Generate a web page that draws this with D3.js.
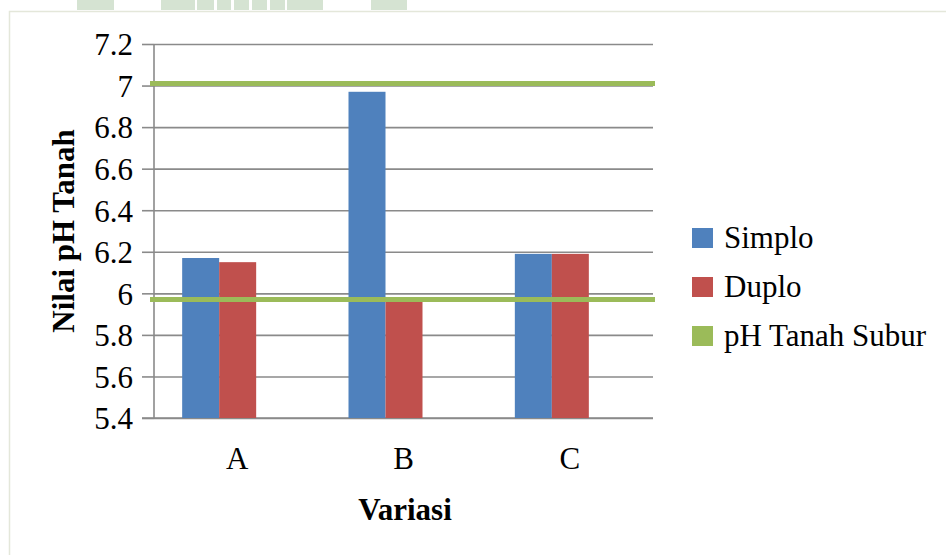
<!DOCTYPE html>
<html>
<head>
<meta charset="utf-8">
<script src="https://cdn.jsdelivr.net/npm/d3@7"></script>
<style>
  body { margin: 0; background: #fff; }
  svg text { font-family: "Liberation Serif", "Times New Roman", serif !important; fill: #000; }
</style>
</head>
<body>
<div id="chart"></div>
<script>
// data
const categories = ['A', 'B', 'C'];
const seriesNames = ['Simplo', 'Duplo'];
const simplo = [6.17, 6.97, 6.19];
const duplo = [6.15, 5.96, 6.19];
const referenceName = 'pH Tanah Subur';
const referenceLines = [7.01, 5.97];
const yTicks = [5.4, 5.6, 5.8, 6.0, 6.2, 6.4, 6.6, 6.8, 7.0, 7.2];

const colors = { Simplo: '#4f81bd', Duplo: '#c0504d', ref: '#9bbb59' };

const width = 946, height = 555;
const plot = { left: 154, right: 653, top: 44, bottom: 418 };

const svg = d3.select('#chart').append('svg')
    .attr('width', width)
    .attr('height', height);

// page decoration: faint header blocks and frame
const headerBlocks = [[77, 37], [161, 34], [197, 17], [217, 14], [234, 15], [252, 15], [270, 15], [287, 36], [371, 36]];
svg.selectAll('.hdr').data(headerBlocks).enter().append('rect')
    .attr('x', d => d[0]).attr('y', 0)
    .attr('width', d => d[1]).attr('height', 10)
    .attr('fill', '#d5e3d2');
svg.append('rect')
    .attr('x', 9.5).attr('y', 11.5)
    .attr('width', width).attr('height', height)
    .attr('fill', 'none')
    .attr('stroke', '#e4e7da')
    .attr('stroke-width', 1.5);

// scales
const y = d3.scaleLinear().domain([5.4, 7.2]).range([plot.bottom, plot.top]);
const x = d3.scaleBand().domain(categories).range([plot.left, plot.right]);
// bars in the original sit a little left of the category centres
const xBars = d3.scaleBand().domain(categories).range([plot.left - 18, plot.right - 18]);
const xSub = d3.scaleBand().domain(seriesNames).range([0, 74]);

const fmt = d => String(+d.toFixed(1));

// gridlines
svg.append('g')
    .attr('transform', `translate(${plot.left},0)`)
    .call(d3.axisLeft(y).tickValues(yTicks).tickSize(-(plot.right - plot.left)).tickFormat(''))
    .call(g => g.select('.domain').remove())
    .call(g => g.selectAll('line').attr('stroke', '#8a8a8a').attr('stroke-width', 1.6));

// y axis with outer ticks and labels
svg.append('g')
    .attr('transform', `translate(${plot.left},0)`)
    .call(d3.axisLeft(y).tickValues(yTicks).tickSize(12).tickPadding(9).tickFormat(fmt))
    .call(g => g.select('.domain').attr('stroke', '#8a8a8a').attr('stroke-width', 1.6).attr('d', `M0,${plot.top}V${plot.bottom}`))
    .call(g => g.selectAll('line').attr('stroke', '#8a8a8a').attr('stroke-width', 1.6))
    .call(g => g.selectAll('text')
        .attr('font-size', 31)
        .attr('dy', '0.35em'));

// x axis line
svg.append('line')
    .attr('x1', plot.left - 12).attr('x2', plot.right)
    .attr('y1', plot.bottom).attr('y2', plot.bottom)
    .attr('stroke', '#8a8a8a').attr('stroke-width', 1.6);

// bars
const rows = categories.map((c, i) => ({ cat: c, Simplo: simplo[i], Duplo: duplo[i] }));
const groups = svg.selectAll('.grp').data(rows).enter().append('g')
    .attr('transform', d => `translate(${xBars(d.cat) + xBars.bandwidth() / 2 - 37},0)`);

groups.selectAll('rect')
    .data(d => seriesNames.map(s => ({ s, v: d[s] })))
    .enter().append('rect')
    .attr('x', d => xSub(d.s))
    .attr('y', d => y(d.v))
    .attr('width', xSub.bandwidth())
    .attr('height', d => y(5.4) - y(d.v))
    .attr('fill', d => colors[d.s]);

// reference lines
svg.selectAll('.ref').data(referenceLines).enter().append('line')
    .attr('x1', plot.left - 4).attr('x2', plot.right + 2)
    .attr('y1', d => y(d)).attr('y2', d => y(d))
    .attr('stroke', colors.ref)
    .attr('stroke-width', 5);

// category labels
svg.selectAll('.cat').data(categories).enter().append('text')
    .attr('x', d => x(d) + x.bandwidth() / 2)
    .attr('y', 469)
    .attr('text-anchor', 'middle')
    .attr('font-size', 31)
    .text(d => d);

// axis titles
svg.append('text')
    .attr('x', 405).attr('y', 520)
    .attr('text-anchor', 'middle')
    .attr('font-size', 31)
    .attr('font-weight', 'bold')
    .text('Variasi');

svg.append('text')
    .attr('transform', 'translate(74,231) rotate(-90)')
    .attr('text-anchor', 'middle')
    .attr('font-size', 31)
    .attr('font-weight', 'bold')
    .text('Nilai pH Tanah');

// legend
const legendItems = [
    { name: seriesNames[0], color: colors.Simplo },
    { name: seriesNames[1], color: colors.Duplo },
    { name: referenceName, color: colors.ref }
];
const legend = svg.append('g').attr('transform', 'translate(692,228)');
const li = legend.selectAll('g').data(legendItems).enter().append('g')
    .attr('transform', (d, i) => `translate(0,${i * 49})`);
li.append('rect')
    .attr('width', 21).attr('height', 20)
    .attr('fill', d => d.color);
li.append('text')
    .attr('x', 32).attr('y', 20)
    .attr('font-size', 31)
    .text(d => d.name);
</script>
</body>
</html>
